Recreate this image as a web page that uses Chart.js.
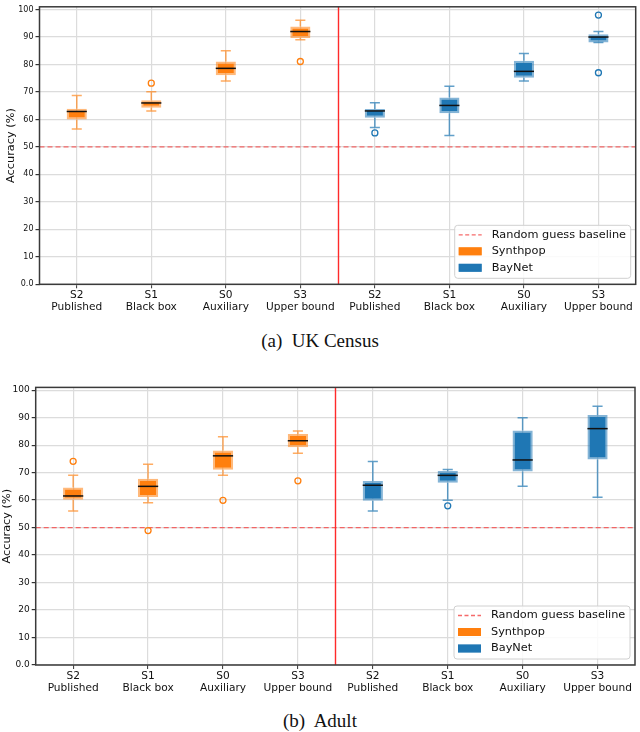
<!DOCTYPE html>
<html><head><meta charset="utf-8">
<script src="https://cdn.jsdelivr.net/npm/chart.js@4.4.1/dist/chart.umd.min.js"></script>
<style>
html,body{margin:0;padding:0;background:#fff;}
#wrap{position:relative;width:640px;height:732px;overflow:hidden;background:#fff;}
canvas{position:absolute;left:0;}
.cap{position:absolute;left:0;width:640px;text-align:center;font-family:"Liberation Serif","DejaVu Serif",serif;font-size:19px;color:#111;white-space:pre;line-height:20px;}
</style></head><body>
<div id="wrap">
  <canvas id="c1" width="640" height="322" style="top:0px"></canvas>
  <div class="cap" style="top:331px">(a)  UK Census</div>
  <canvas id="c2" width="640" height="322" style="top:380px"></canvas>
  <div class="cap" style="top:711px">(b)  Adult</div>
</div>
<script>
// ---- data ----
const categories = [['S2','Published'],['S1','Black box'],['S0','Auxiliary'],['S3','Upper bound'],
                    ['S2','Published'],['S1','Black box'],['S0','Auxiliary'],['S3','Upper bound']];
const seriesNames = ['Synthpop','BayNet'];
const baselineLabel = 'Random guess baseline';
const baselineValue = 50;
const yTickValues = [0,10,20,30,40,50,60,70,80,90,100];
// each box: [lower whisker, Q1, median, Q3, upper whisker]
const censusSynthpop = [[56.5,60.0,62.9,63.9,68.7],[63.1,64.3,66.0,67.0,70.1],[74.0,76.1,78.6,81.1,85.0],[89.0,89.6,92.0,93.8,96.1]];
const censusSynthpopOutliers = [[],[73.2],[],[81.1]];
const censusBaynet = [[57.1,60.6,63.1,63.8,66.1],[54.2,62.3,65.1,68.0,72.1],[74.0,75.2,77.5,81.4,84.0],[88.0,88.0,90.0,91.0,92.0]];
const censusBaynetOutliers = [[55.1],[],[],[98.0,77.0]];
const adultSynthpop = [[56.0,60.1,61.5,64.6,69.0],[59.0,61.1,65.0,67.8,73.0],[69.0,71.0,76.1,78.0,83.0],[77.0,79.2,81.6,84.0,85.1]];
const adultSynthpopOutliers = [[74.1],[48.9],[59.9],[67.0]];
const adultBaynet = [[56.0,59.8,65.4,66.9,74.0],[59.9,66.3,69.0,70.6,71.1],[65.0,70.4,74.6,85.3,90.0],[61.0,74.8,86.0,91.0,94.1]];
const adultBaynetOutliers = [[],[57.9],[],[]];

// ---- styles ----
const COLORS = {
  Synthpop: {fill:'#ff7f0e', edge:'rgba(255,127,14,0.55)', whisker:'rgba(255,127,14,0.65)'},
  BayNet:   {fill:'#1f77b4', edge:'rgba(31,119,180,0.55)', whisker:'rgba(31,119,180,0.7)'}
};
const GRID = '#dcdcdc';
const BASE_COLOR = 'rgba(245,80,80,0.85)';
const DIVIDER_COLOR = '#ff2a2a';

function padded(arr, offset, fn) {
  const out = new Array(categories.length).fill(null);
  arr.forEach((v, i) => { out[offset + i] = fn(v); });
  return out;
}

function makeChart(id, seriesList, lay) {
  const datasets = [];
  seriesList.forEach(s => {
    const c = COLORS[s.name];
    datasets.push({
      type: 'bar', label: s.name,
      data: padded(s.boxes, s.offset, b => [b[1], b[3]]),
      backgroundColor: c.fill, borderColor: c.edge, borderWidth: 2, borderSkipped: false,
      barPercentage: 0.27, categoryPercentage: 1.0, skipNull: true, order: 2
    });
  });
  seriesList.forEach(s => {
    const c = COLORS[s.name];
    const maxK = Math.max(...s.outliers.map(o => o.length));
    for (let k = 0; k < maxK; k++) {
      datasets.push({
        type: 'line', label: s.name + ' outliers ' + (k + 1),
        data: padded(s.outliers, s.offset, o => (o.length > k ? o[k] : null)),
        showLine: false, pointRadius: 3, pointHoverRadius: 3, pointBorderWidth: 1.3,
        pointBorderColor: c.fill, pointBackgroundColor: 'rgba(0,0,0,0)', order: 1
      });
    }
  });

  const deco = {
    id: 'deco',
    beforeDatasetsDraw(chart) {
      const {ctx, chartArea: a, scales: {x, y}} = chart;
      ctx.save();
      const yb = y.getPixelForValue(baselineValue);
      ctx.strokeStyle = BASE_COLOR; ctx.lineWidth = 1.3; ctx.setLineDash([5, 3]);
      ctx.beginPath(); ctx.moveTo(a.left, yb); ctx.lineTo(a.right, yb); ctx.stroke();
      ctx.setLineDash([]);
      const xd = Math.round((x.getPixelForValue(3) + x.getPixelForValue(4)) / 2) + 0.5;
      ctx.strokeStyle = DIVIDER_COLOR; ctx.lineWidth = 1.4;
      ctx.beginPath(); ctx.moveTo(xd, a.top); ctx.lineTo(xd, a.bottom); ctx.stroke();
      ctx.restore();
    },
    afterDatasetsDraw(chart) {
      const {ctx, scales: {x, y}} = chart;
      ctx.save();
      seriesList.forEach((s, si) => {
        const c = COLORS[s.name];
        const meta = chart.getDatasetMeta(si);
        s.boxes.forEach((b, i) => {
          const idx = s.offset + i;
          const el = meta.data[idx];
          const w = el ? el.width : 20;
          const cx = x.getPixelForValue(idx);
          const [lo, q1, med, q3, hi] = b.map(v => y.getPixelForValue(v));
          ctx.strokeStyle = c.whisker; ctx.lineWidth = 1.5;
          ctx.beginPath();
          ctx.moveTo(cx, q3); ctx.lineTo(cx, hi);
          ctx.moveTo(cx, q1); ctx.lineTo(cx, lo);
          ctx.moveTo(cx - w / 4, hi); ctx.lineTo(cx + w / 4, hi);
          ctx.moveTo(cx - w / 4, lo); ctx.lineTo(cx + w / 4, lo);
          ctx.stroke();
          ctx.strokeStyle = '#111'; ctx.lineWidth = 1.5;
          ctx.beginPath(); ctx.moveTo(cx - w / 2, med); ctx.lineTo(cx + w / 2, med); ctx.stroke();
        });
      });
      ctx.restore();
    },
    afterDraw(chart) {
      const {ctx, chartArea: a} = chart;
      ctx.save();
      ctx.strokeStyle = '#3a3a3a'; ctx.lineWidth = 1.5;
      ctx.strokeRect(a.left, a.top, a.right - a.left, a.bottom - a.top);
      const lw = 176, lh = 53;
      const x0 = a.right - 5 - lw, y0 = a.bottom - 6 - lh;
      ctx.fillStyle = 'rgba(255,255,255,0.85)'; ctx.strokeStyle = '#d0d0d0'; ctx.lineWidth = 1;
      ctx.beginPath(); ctx.roundRect(x0, y0, lw, lh, 3); ctx.fill(); ctx.stroke();
      const rows = [y0 + 9.5, y0 + 26, y0 + 42.5];
      ctx.strokeStyle = BASE_COLOR; ctx.lineWidth = 1.3; ctx.setLineDash([4, 2.5]);
      ctx.beginPath(); ctx.moveTo(x0 + 4, rows[0]); ctx.lineTo(x0 + 27, rows[0]); ctx.stroke();
      ctx.setLineDash([]);
      seriesNames.forEach((n, k) => {
        const c = COLORS[n];
        ctx.fillStyle = c.fill; ctx.fillRect(x0 + 4, rows[k + 1] - 4, 23, 8);
        ctx.strokeStyle = c.edge; ctx.lineWidth = 2; ctx.strokeRect(x0 + 5, rows[k + 1] - 3, 21, 6);
      });
      ctx.fillStyle = '#111'; ctx.font = '11.3px "DejaVu Sans"'; ctx.textBaseline = 'middle';
      ctx.fillText(baselineLabel, x0 + 37, rows[0]);
      seriesNames.forEach((n, k) => ctx.fillText(n, x0 + 37, rows[k + 1]));
      ctx.restore();
    }
  };

  return new Chart(document.getElementById(id), {
    type: 'bar',
    data: {labels: categories, datasets},
    options: {
      responsive: false, animation: false,
      layout: {padding: {top: lay.top, right: lay.right, left: 0, bottom: 0}},
      plugins: {legend: {display: false}, tooltip: {enabled: false}},
      scales: {
        x: {
          type: 'category', offset: true,
          grid: {offset: false, color: GRID, lineWidth: 1.2, tickColor: '#333', tickLength: 4, tickWidth: 1},
          border: {display: false},
          ticks: {font: {family: 'DejaVu Sans', size: 10.6, lineHeight: 1.13}, color: '#111', padding: 1, maxRotation: 0, autoSkip: false},
          afterFit(s) { s.height = lay.xH; }
        },
        y: {
          min: 0, max: 101,
          afterBuildTicks(s) { s.ticks = yTickValues.map(v => ({value: v})); },
          ticks: {callback: v => (v === 0 ? '0.0' : String(v)), font: {family: 'DejaVu Sans', size: lay.yFont}, color: '#111', padding: 2},
          grid: {color: GRID, lineWidth: 1.2, tickColor: '#333', tickLength: 4},
          border: {display: false},
          title: {display: true, text: 'Accuracy (%)', font: {family: 'DejaVu Sans', size: 11.3}, color: '#111', padding: {top: lay.titlePad, bottom: 0}},
          afterFit(s) { s.width = lay.yW; }
        }
      }
    },
    plugins: [deco]
  });
}

makeChart('c1', [
  {name: 'Synthpop', boxes: censusSynthpop, outliers: censusSynthpopOutliers, offset: 0},
  {name: 'BayNet', boxes: censusBaynet, outliers: censusBaynetOutliers, offset: 4}
], {top: 2, right: 2, xH: 37.7, yW: 39.5, yFont: 8, titlePad: 4});

makeChart('c2', [
  {name: 'Synthpop', boxes: adultSynthpop, outliers: adultSynthpopOutliers, offset: 0},
  {name: 'BayNet', boxes: adultBaynet, outliers: adultBaynetOutliers, offset: 4}
], {top: 3.3, right: 5, xH: 37, yW: 35.7, yFont: 9, titlePad: 0.5});
</script>
</body></html>
